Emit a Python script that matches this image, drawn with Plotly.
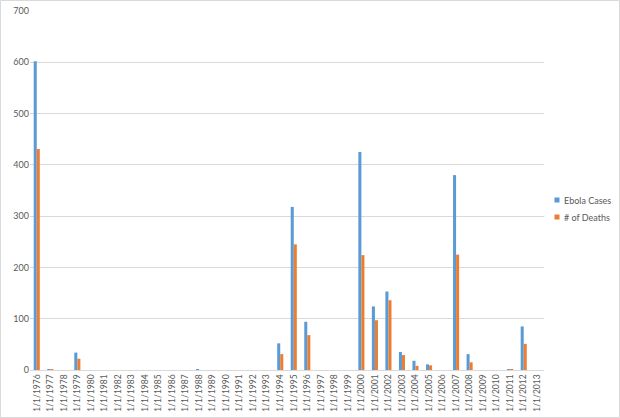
import plotly.graph_objects as go

years = list(range(1976, 2014))
categories = [f"1/1/{y}" for y in years]
cases_by_year = {1976: 602, 1977: 1, 1979: 34, 1988: 1, 1994: 52, 1995: 318, 1996: 94,
                 2000: 425, 2001: 124, 2002: 153, 2003: 35, 2004: 18, 2005: 11,
                 2007: 380, 2008: 31, 2011: 1, 2012: 85}
deaths_by_year = {1976: 431, 1977: 1, 1979: 22, 1988: 0, 1994: 31, 1995: 245, 1996: 68,
                  2000: 224, 2001: 97, 2002: 136, 2003: 29, 2004: 8, 2005: 9,
                  2007: 225, 2008: 15, 2011: 1, 2012: 51}
ebola_cases = [cases_by_year.get(y, 0) for y in years]
deaths = [deaths_by_year.get(y, 0) for y in years]
series_names = ["Ebola Cases", "# of Deaths"]
series_colors = ["#5B9BD5", "#ED7D31"]

W, H = 620, 418
ml, mr, mt, mb = 30, 76, 11, 48
pw = W - ml - mr
ph = H - mt - mb

fig = go.Figure()
for vals, name, col in zip([ebola_cases, deaths], series_names, series_colors):
    fig.add_trace(go.Bar(x=categories, y=vals, name=name, marker_color=col,
                         marker_line_width=0))

# outer chart border
fig.add_shape(type="rect", xref="paper", yref="paper",
              x0=(-ml + 0.5) / pw, x1=(pw + mr - 0.5) / pw,
              y0=(-mb + 0.5) / ph, y1=(ph + mt - 0.5) / ph,
              line=dict(color="#D9D9D9", width=1))

# legend drawn at the right (small square swatches like Excel)
def px_x(p):
    return (p - ml) / pw

def px_y(p):
    return (H - mb - p) / ph

for i, (name, col) in enumerate(zip(series_names, series_colors)):
    cy = 200 + i * 17
    fig.add_shape(type="rect", xref="paper", yref="paper",
                  x0=px_x(554.5), x1=px_x(559.5), y0=px_y(cy + 2.5), y1=px_y(cy - 2.5),
                  fillcolor=col, line=dict(width=0))
    fig.add_annotation(xref="paper", yref="paper", x=px_x(561.5), y=px_y(cy),
                       text=name, showarrow=False, xanchor="left", yanchor="middle",
                       font=dict(size=9, color="#595959"))

fig.update_layout(
    width=W, height=H,
    margin=dict(l=ml, r=mr, t=mt, b=mb),
    paper_bgcolor="white", plot_bgcolor="white",
    barmode="group", bargap=0.55, bargroupgap=0,
    font=dict(family="Lato, Open Sans, sans-serif", size=9, color="#595959"),
    showlegend=False,
    xaxis=dict(type="category", tickangle=-90, showgrid=False, showline=True,
               linecolor="#D9D9D9", linewidth=1, ticks="", automargin=False,
               tickfont=dict(size=8.5)),
    yaxis=dict(range=[0, 700], dtick=100, showgrid=True, gridcolor="#D9D9D9",
               gridwidth=1, zeroline=False, ticks="", automargin=False,
               tickfont=dict(size=9)),
)

fig.write_html("out.html", config={"displayModeBar": False},
               post_script="document.body.style.margin='0';document.body.style.overflow='hidden';")
